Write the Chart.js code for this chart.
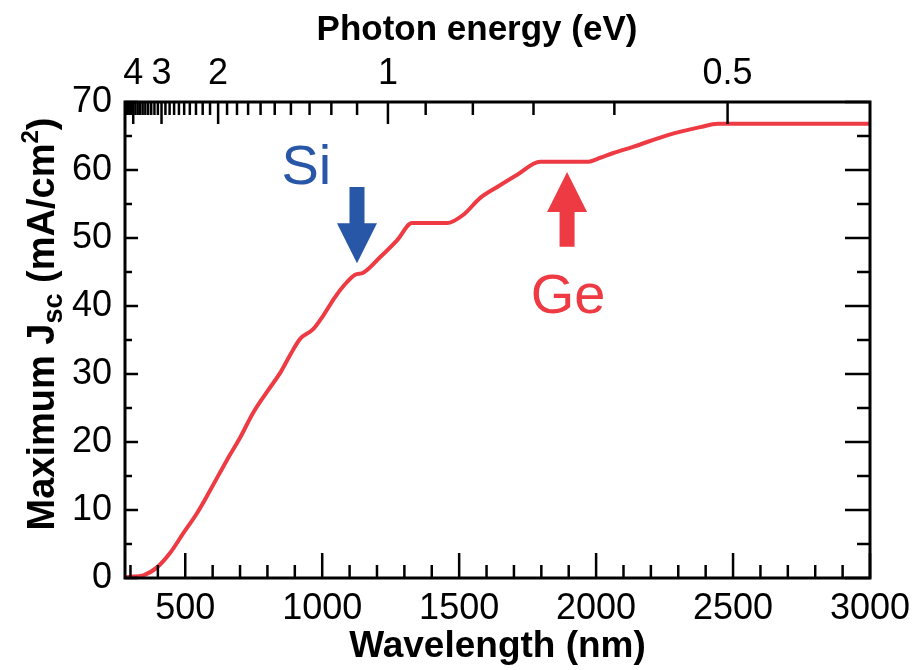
<!DOCTYPE html>
<html>
<head>
<meta charset="utf-8">
<script src="https://cdn.jsdelivr.net/npm/chart.js@4.4.1/dist/chart.umd.min.js"></script>
<style>
  html, body { margin: 0; padding: 0; background: #fff; }
  #wrap { width: 917px; height: 670px; }
</style>
</head>
<body>
<div id="wrap"><canvas id="c"></canvas></div>
<script>
// curve
const wavelength = [280, 288, 347, 398, 445, 493, 544, 591, 653, 701, 748, 799, 847, 883, 920, 967, 1004, 1045, 1077, 1120, 1150, 1212, 1274, 1328, 1456, 1515, 1577, 1639, 1712, 1796, 1967, 2015, 2063, 2135, 2259, 2380, 2445, 3000];
const jsc = [0, 0.1, 0.4, 1.6, 3.7, 6.6, 9.6, 12.9, 17.4, 20.7, 24.3, 27.4, 30.2, 32.8, 35.2, 36.6, 38.6, 41.2, 42.9, 44.6, 44.9, 47.2, 49.7, 52.2, 52.2, 53.4, 55.9, 57.5, 59.3, 61.2, 61.2, 61.8, 62.5, 63.4, 65.1, 66.3, 66.8, 66.8];

const wavelengthTicks = [300, 400, 500, 600, 700, 800, 900, 1000, 1100, 1200, 1300, 1400, 1500, 1600, 1700, 1800, 1900, 2000, 2100, 2200, 2300, 2400, 2500, 2600, 2700, 2800, 2900, 3000];
const wavelengthLabels = [500, 1000, 1500, 2000, 2500, 3000];
const energyTicks = [0.5, 0.6, 0.7, 0.8, 0.9, 1.0, 1.1, 1.2, 1.3, 1.4, 1.5, 1.6, 1.7, 1.8, 1.9, 2.0, 2.1, 2.2, 2.3, 2.4, 2.5, 2.6, 2.7, 2.8, 2.9, 3.0, 3.1, 3.2, 3.3, 3.4, 3.5, 3.6, 3.7, 3.8, 3.9, 4.0, 4.1, 4.2, 4.3, 4.4];
const energyLabels = [4, 3, 2, 1, 0.5];
const jscTicks = [0, 5, 10, 15, 20, 25, 30, 35, 40, 45, 50, 55, 60, 65, 70];
const jscLabels = [0, 10, 20, 30, 40, 50, 60, 70];

const RED = '#ee3a43';
const BLUE = '#2757a6';
const FONT = '"Liberation Sans", Arial, sans-serif';

// inward ticks + box
const frame = {
  id: 'frame',
  afterDatasetsDraw(chart) {
    const { ctx, chartArea: a, scales } = chart;
    const mark = (x1, y1, x2, y2) => { ctx.beginPath(); ctx.moveTo(x1, y1); ctx.lineTo(x2, y2); ctx.stroke(); };
    ctx.save();
    ctx.strokeStyle = '#000';
    ctx.lineWidth = 2.5;
    scales.x.ticks.forEach(t => {
      const px = scales.x.getPixelForValue(t.value);
      const len = wavelengthLabels.includes(t.value) ? 25 : 13;
      mark(px, a.bottom, px, a.bottom - len);
    });
    scales.x2.ticks.forEach((t, i) => {
      const px = scales.x2.getPixelForValue(t.value);
      const len = energyLabels.includes(energyTicks[i]) ? 22 : 13;
      mark(px, a.top, px, a.top + len);
    });
    scales.y.ticks.forEach(t => {
      const py = scales.y.getPixelForValue(t.value);
      const major = jscLabels.includes(t.value);
      mark(a.left, py, a.left + (major ? 13 : 7), py);
      mark(a.right, py, a.right - (major ? 25 : 13), py);
    });
    ctx.lineWidth = 3;
    ctx.strokeRect(a.left, a.top, a.width, a.height);
    ctx.restore();
  }
};

// axis titles drawn by hand (sub/superscript, off-centre top title)
const titles = {
  id: 'titles',
  afterDraw(chart) {
    const { ctx } = chart;
    ctx.save();
    ctx.fillStyle = '#000';
    ctx.font = 'bold 35px ' + FONT;
    ctx.textAlign = 'center';
    ctx.textBaseline = 'alphabetic';
    ctx.fillText('Photon energy (eV)', 477, 40);

    const parts = [
      { t: 'Maximum J', s: 38, dy: 0 },
      { t: 'sc', s: 27, dy: 8 },
      { t: ' (mA/cm', s: 38, dy: 0 },
      { t: '2', s: 24, dy: -16 },
      { t: ')', s: 38, dy: 0 }
    ];
    ctx.translate(40, 324);
    ctx.rotate(-Math.PI / 2);
    ctx.textAlign = 'left';
    let total = 0;
    parts.forEach(p => { ctx.font = 'bold ' + p.s + 'px ' + FONT; p.w = ctx.measureText(p.t).width; total += p.w; });
    let x = -total / 2;
    parts.forEach(p => {
      ctx.font = 'bold ' + p.s + 'px ' + FONT;
      ctx.fillText(p.t, x, 13.5 + p.dy);
      x += p.w;
    });
    ctx.restore();
  }
};

// Si / Ge arrows and labels
const marks = {
  id: 'marks',
  afterDraw(chart) {
    const { ctx, scales: { x, y } } = chart;
    const arrow = (lam, fromJ, toJ, color) => {
      const px = x.getPixelForValue(lam);
      const y0 = y.getPixelForValue(fromJ);
      const y1 = y.getPixelForValue(toJ);
      const dir = y1 > y0 ? 1 : -1;
      const head = 40, hw = 20, sw = 7.5;
      ctx.fillStyle = color;
      ctx.beginPath();
      ctx.moveTo(px - sw, y0);
      ctx.lineTo(px + sw, y0);
      ctx.lineTo(px + sw, y1 - dir * head);
      ctx.lineTo(px + hw, y1 - dir * head);
      ctx.lineTo(px, y1);
      ctx.lineTo(px - hw, y1 - dir * head);
      ctx.lineTo(px - sw, y1 - dir * head);
      ctx.closePath();
      ctx.fill();
    };
    ctx.save();
    arrow(1127, 57.5, 46.3, BLUE);
    arrow(1894, 48.7, 59.7, RED);
    ctx.font = '56px ' + FONT;
    ctx.textAlign = 'center';
    ctx.textBaseline = 'alphabetic';
    ctx.fillStyle = BLUE;
    ctx.fillText('Si', x.getPixelForValue(942), y.getPixelForValue(57.9));
    ctx.fillStyle = RED;
    ctx.fillText('Ge', x.getPixelForValue(1898), y.getPixelForValue(39.0));
    ctx.restore();
  }
};

const tickFont = { family: FONT, size: 36 };
// keep the edge labels from pushing the plot box around
const fixPad = s => { s.paddingLeft = 0; s.paddingRight = 0; };

new Chart(document.getElementById('c'), {
  type: 'line',
  data: {
    datasets: [{
      data: wavelength.map((w, i) => ({ x: w, y: jsc[i] })),
      borderColor: RED,
      borderWidth: 4,
      pointRadius: 0,
      cubicInterpolationMode: 'monotone',
      fill: false
    }]
  },
  options: {
    responsive: true,
    maintainAspectRatio: false,
    animation: false,
    devicePixelRatio: 1,
    layout: { padding: { left: 0, right: 47, top: 0, bottom: 0 } },
    plugins: { legend: { display: false }, tooltip: { enabled: false } },
    scales: {
      x: {
        type: 'linear', position: 'bottom', min: 280, max: 3000,
        afterBuildTicks: s => { s.ticks = wavelengthTicks.map(v => ({ value: v })); },
        afterFit: s => { s.height = 92; fixPad(s); },
        grid: { display: false, drawTicks: false },
        border: { display: false },
        ticks: {
          autoSkip: false, maxRotation: 0, padding: 9, color: '#000', font: tickFont,
          callback: v => wavelengthLabels.includes(v) ? String(v) : ''
        },
        title: { display: true, text: 'Wavelength (nm)', color: '#000', font: { family: FONT, size: 37, weight: 'bold' }, padding: { top: 0, bottom: 1 } }
      },
      x2: {
        type: 'linear', position: 'top', min: 280, max: 3000,
        afterBuildTicks: s => { s.ticks = energyTicks.map(e => ({ value: 1240 / e })); },
        afterFit: s => { s.height = 102; fixPad(s); },
        grid: { display: false, drawTicks: false },
        border: { display: false },
        ticks: {
          autoSkip: false, maxRotation: 0, padding: 6, color: '#000', font: tickFont,
          callback: (v, i) => energyLabels.includes(energyTicks[i]) ? String(energyTicks[i]) : ''
        }
      },
      y: {
        type: 'linear', min: 0, max: 70,
        afterBuildTicks: s => { s.ticks = jscTicks.map(v => ({ value: v })); },
        afterFit: s => { s.width = 125; },
        grid: { display: false, drawTicks: false },
        border: { display: false },
        ticks: {
          autoSkip: false, padding: 13, color: '#000', font: tickFont,
          callback: v => jscLabels.includes(v) ? String(v) : ''
        }
      }
    }
  },
  plugins: [frame, titles, marks]
});
</script>
</body>
</html>
